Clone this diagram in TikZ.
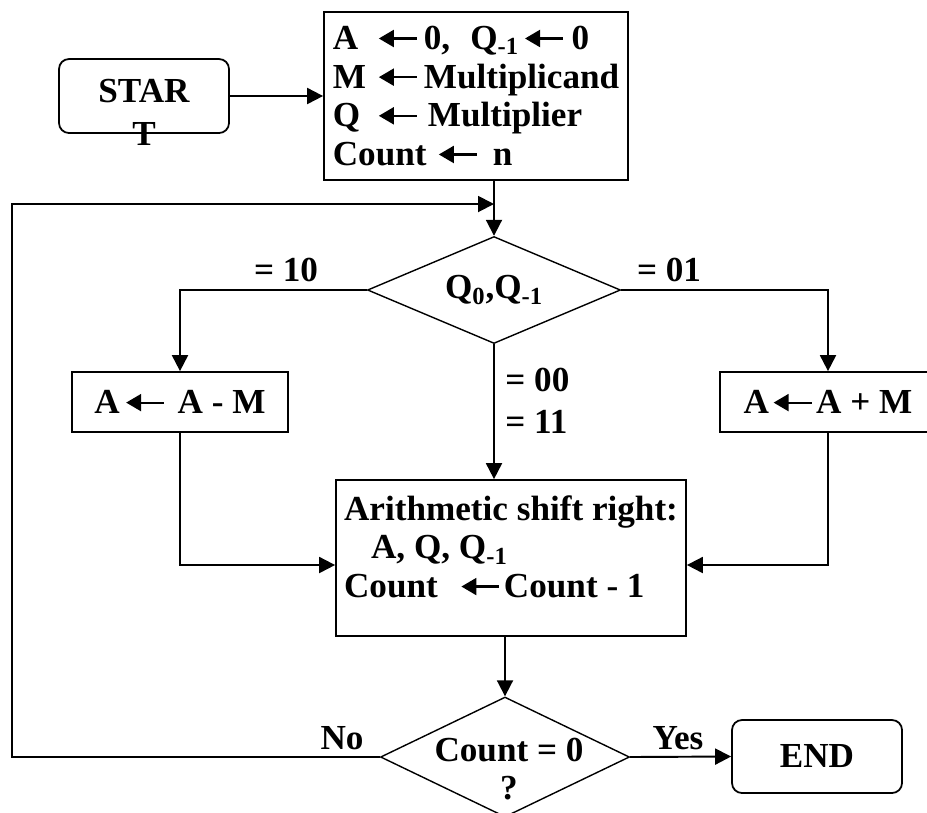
\documentclass[tikz,border=0pt]{standalone}
\usepackage{fontspec}
\setmainfont{Liberation Serif}
\usetikzlibrary{shapes.geometric,arrows.meta,positioning}

% small assignment arrow used inside the boxes
\newcommand{\getsarr}{\tikz[baseline=-0.22cm]\draw[line width=1.2pt,
    {Triangle[length=0.3cm,width=0.34cm]}-] (0,0) -- (0.76,0);}

\tikzset{
    fc font/.style={font=\fontsize{20}{22}\selectfont\bfseries},
    fc box/.style={draw, line width=1pt, fc font, inner sep=0pt, align=left},
    fc term/.style={fc box, rounded corners=0.2cm},
    fc dec/.style={diamond, draw, line width=0.8pt, inner sep=0pt, fc font},
    fc flow/.style={line width=1.1pt, -{Triangle[length=0.32cm,width=0.32cm]}},
    fc lbl/.style={fc font, inner sep=0pt},
}

\begin{document}
\begin{tikzpicture}
    \useasboundingbox (0,0) rectangle (18.54,-16.24);
    % Start and end
    \node[fc term, minimum width=3.4cm, minimum height=1.48cm]
        (start) at (2.88,-1.92) {};
    \node[fc lbl, align=center] (starttxt) at (2.88,-2.25) {STAR\\[2.5pt]T};
    \node[fc term, minimum width=3.4cm, minimum height=1.46cm]
        (stop) at (16.34,-15.13) {END};
    % Initialisation
    \node[fc box, minimum width=6.08cm, minimum height=3.36cm] (init) at (9.52,-1.92)
        {\makebox[0.9cm][l]{A}\getsarr\hspace{0.12cm}0,\hspace{0.4cm}Q\textsubscript{-1}\hspace{0.1cm}\getsarr\hspace{0.15cm}0\\
         \makebox[0.9cm][l]{M}\getsarr\hspace{0.12cm}Multiplicand\\
         \makebox[0.9cm][l]{Q}\getsarr\hspace{0.2cm}Multiplier\\
         \makebox[2.1cm][l]{Count}\getsarr\hspace{0.3cm}n};
    % Test of Q0, Q-1
    \node[fc dec, shape aspect=2.36, minimum width=5.06cm, minimum height=2.14cm]
        (chk) at (9.88,-5.8) {Q\textsubscript{0},Q\textsubscript{-1}};
    \node[fc box, minimum width=4.32cm, minimum height=1.2cm] (sub) at (3.6,-8.04)
        {A\hspace{3pt}\getsarr\hspace{0.25cm}A - M};
    \node[fc box, minimum width=4.32cm, minimum height=1.2cm] (add) at (16.56,-8.04)
        {A\hspace{2pt}\getsarr\hspace{2pt}A + M};
    % Shift
    \node[fc box, minimum width=7.0cm, minimum height=3.12cm, text depth=0.46cm]
        (shift) at (10.22,-11.16)
        {Arithmetic shift right:\\
         \hspace*{0.54cm}A, Q, Q\textsubscript{-1}\\
         Count\hspace{0.45cm}\getsarr\hspace{2pt}Count - 1};
    % Test of count
    \node[fc dec, minimum width=4.98cm, minimum height=2.4cm] (cz) at (10.1,-15.14) {};
    \node[fc lbl, align=center] (cztxt) at (10.18,-15.38) {Count = 0\\?};
    % Labels
    \node[fc lbl] (l10) at (5.72,-5.4) {= 10};
    \node[fc lbl] (l01) at (13.38,-5.4) {= 01};
    \node[fc lbl, anchor=west] (l00) at (10.1,-7.6) {= 00};
    \node[fc lbl, anchor=west] (l11) at (10.1,-8.44) {= 11};
    \node[fc lbl] (lno) at (6.84,-14.76) {No};
    \node[fc lbl] (lyes) at (13.56,-14.76) {Yes};
    % Connectors
    \coordinate (lp) at (0.24,-4.08);
    \draw[fc flow] (start.east) -- (init.west);
    \draw[fc flow] (init.south -| chk.north) -- (chk.north);
    \draw[fc flow] (cz.west) -| (lp) -- (lp -| chk.north);
    \draw[fc flow] (chk.west) -| (sub.north);
    \draw[fc flow] (chk.east) -| (add.north);
    \draw[fc flow] (chk.south) -- (chk.south |- shift.north);
    \draw[fc flow] (sub.south) |- ([yshift=-0.14cm]shift.west);
    \draw[fc flow] (add.south) |- ([yshift=-0.14cm]shift.east);
    \draw[fc flow] (shift.south -| cz.north) -- (cz.north);
    \draw[fc flow] (cz.east) -- (stop.west);
\end{tikzpicture}
\end{document}
